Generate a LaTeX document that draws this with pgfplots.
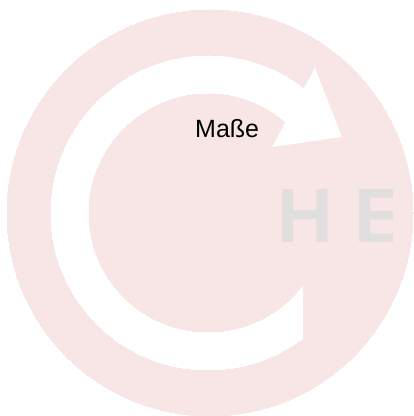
\documentclass[border=0pt]{standalone}
\usepackage{pgfplots}
\pgfplotsset{compat=1.18}
\usepackage{fontspec}
\setmainfont{Liberation Sans}
\definecolor{pinkbg}{RGB}{248,230,230}
\definecolor{hegray}{RGB}{224,223,221}
\begin{document}
\begin{tikzpicture}
\begin{axis}[scale only axis, width=414pt, height=416pt,
  xmin=0, xmax=414, ymin=0, ymax=416, hide axis, clip=false, clip mode=individual]
% background
\addplot[fill=white, draw=none] coordinates {(0,0) (414,0) (414,416) (0,416)} -- cycle;
% outer pink disk
\addplot[pinkbg, only marks, mark=*, mark size=203pt, mark options={draw=pinkbg, fill=pinkbg, line width=0pt}] coordinates {(210,203)};
% white ring (outer and inner)
\addplot[white, only marks, mark=*, mark size=157pt, mark options={draw=white, fill=white, line width=0pt}] coordinates {(208,203)};
\addplot[pinkbg, only marks, mark=*, mark size=119pt, mark options={draw=pinkbg, fill=pinkbg, line width=0pt}] coordinates {(208,203)};
% gap of the ring on the right
\addplot[fill=pinkbg, draw=none] coordinates {(303,40) (380,150) (380,260) (330,350) (315,348) (272,269) (250,200) (303,131)} -- cycle;
% arrow head
\addplot[fill=white, draw=none] coordinates {(272,269) (342,279) (315,348)} -- cycle;
\begin{scope}
\clip (axis cs:0,0) rectangle (axis cs:392,416);
\node[anchor=base west, inner sep=0pt, text=hegray, font=\fontsize{77}{77}\selectfont\bfseries] at (axis cs:277.5,173.5) {H E};
\end{scope}
\node[anchor=base west, inner sep=0pt, text=black, font=\fontsize{25}{25}\selectfont] at (axis cs:195,278.5) {Maße};
\end{axis}
\end{tikzpicture}
\end{document}
